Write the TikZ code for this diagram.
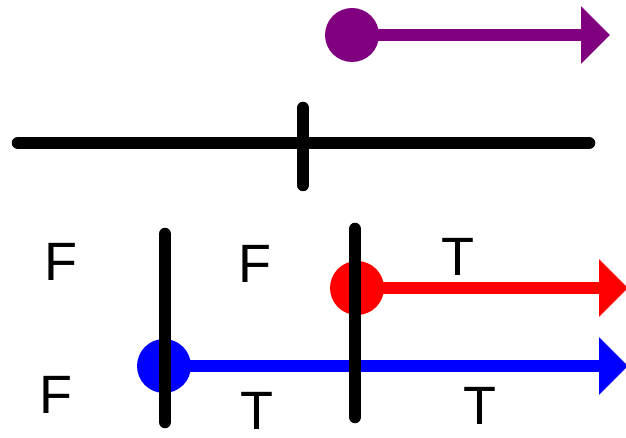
\documentclass[tikz,border=0pt]{standalone}
\usepackage{fontspec}
\setmainfont{Liberation Sans}
\usetikzlibrary{arrows.meta}
\definecolor{vpurple}{RGB}{128,0,128}

\begin{document}
\begin{tikzpicture}[>={Triangle[length=29pt, width=56pt]}, x=1pt, y=-1pt, font=\fontsize{54}{60}\selectfont]
\tikzset{dot/.style={circle, fill, inner sep=0, minimum size=54pt}, ray/.style={line width=12pt, ->}, bar/.style={black, line width=12.5pt, line cap=round}, tf/.style={inner sep=0}}
\useasboundingbox (0,0) rectangle (626,438);

\node[dot, vpurple] (p) at (352,35) {}; %purple ray
\coordinate (pend) at (610,35);
\draw[ray, vpurple] (p.center) -- (pend);

\coordinate (l0) at (18,143); %number line
\coordinate (l1) at (589,143);
\coordinate (t0) at (303,108);
\coordinate (t1) at (303,185);
\draw[bar] (l0) -- (l1);
\draw[bar] (t0) -- (t1);

\node[dot, red] (r) at (357,288) {}; %red ray
\coordinate (rend) at (628,288);
\draw[ray, red] (r.center) -- (rend);

\node[dot, blue] (b) at (164,366) {}; %blue ray
\coordinate (bend) at (628,366);
\draw[ray, blue] (b.center) -- (bend);

\coordinate (a0) at (165,234); %cuts
\coordinate (a1) at (165,422);
\coordinate (c0) at (355,229);
\coordinate (c1) at (355,417);
\draw[bar] (a0) -- (a1);
\draw[bar] (c0) -- (c1);

\node[tf] (f1) at (61,262) {F};
\node[tf] (f2) at (255,264) {F};
\node[tf] (t1) at (458,257) {T};
\node[tf] (f3) at (56,395) {F};
\node[tf] (t2) at (257,411) {T};
\node[tf] (t3) at (480,406) {T};

\end{tikzpicture}
\end{document}
